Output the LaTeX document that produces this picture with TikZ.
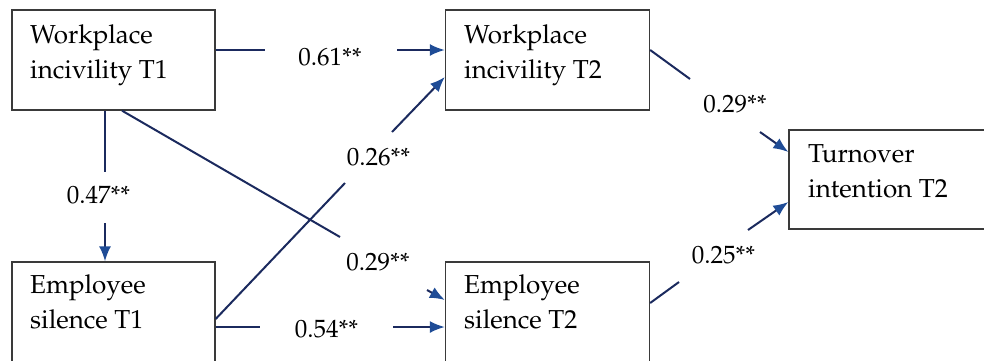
\documentclass[tikz,border=0pt]{standalone}
\usepackage[T1]{fontenc}
\usepackage{mathpazo}
\usetikzlibrary{arrows.meta,calc}
\definecolor{linec}{HTML}{1B2A5E}
\definecolor{arrowc}{HTML}{1F4C96}
\definecolor{boxc}{HTML}{3A3A3A}
\begin{document}
\begin{tikzpicture}[x=1pt,y=-1pt,
  box/.style={draw=boxc,line width=1.3pt,rectangle,inner sep=0pt},
  boxtext/.style={anchor=north west,inner sep=0pt,align=left,font=\fontsize{26}{35}\selectfont},
  conn/.style={draw=linec,line width=2pt},
  arr/.style={conn,-{Latex[length=15pt,width=12pt,color=arrowc]}},
  coef/.style={anchor=base,inner sep=0pt,font=\fontsize{25}{30}\selectfont}]
\useasboundingbox (0,0) rectangle (984,360);
\begin{scope}
\clip (0,0) rectangle (984,360);
% boxes
\node[box,minimum width=203pt,minimum height=100pt] (A) at (113.5,60) {};
\node[box,minimum width=203pt,minimum height=100pt] (B) at (113.5,312) {};
\node[box,minimum width=204pt,minimum height=100pt] (C) at (547.5,60) {};
\node[box,minimum width=204pt,minimum height=100pt] (D) at (547.5,312) {};
\node[box,minimum width=203pt,minimum height=99pt] (E) at (890.5,179.5) {};
\end{scope}
% box texts
\node[boxtext] (At) at (30,24) {Workplace\\incivility T1};
\node[boxtext] (Bt) at (30,274) {Employee\\silence T1};
\node[boxtext] (Ct) at (464,24) {Workplace\\incivility T2};
\node[boxtext] (Dt) at (464,274) {Employee\\silence T2};
\node[boxtext] (Et) at (808,144) {Turnover\\intention T2};
% gap coordinates
\coordinate (g1a) at (265,50);  \coordinate (g1b) at (397,50);
\coordinate (g2a) at (105,172); \coordinate (g2b) at (105,223);
\coordinate (g3a) at (340,237); \coordinate (g3b) at (427,290);
\coordinate (g4a) at (345,183); \coordinate (g4b) at (392,132);
\coordinate (g5a) at (260,327); \coordinate (g5b) at (393,327);
\coordinate (g6a) at (690,79);  \coordinate (g6b) at (760,132);
\coordinate (g7a) at (679,282); \coordinate (g7b) at (748,230);
% connectors
\draw[conn] ([yshift=10pt]A.east) -- (g1a);
\draw[arr] (g1b) -- ([yshift=10pt]C.west);
\draw[conn] ([xshift=-8.5pt]A.south) -- (g2a);
\draw[arr] (g2b) -- ([xshift=-8.5pt]B.north);
\draw[conn] ([xshift=8.5pt]A.south) -- (g3a);
\draw[arr] (g3b) -- ([yshift=12pt]D.west);
\draw[conn] ([yshift=-7pt]B.east) -- (g4a);
\draw[arr] (g4b) -- ([yshift=-17pt]C.west);
\draw[conn] ([yshift=-15pt]B.east) -- (g5a);
\draw[arr] (g5b) -- ([yshift=-15pt]D.west);
\draw[conn] ([yshift=10pt]C.east) -- (g6a);
\draw[arr] (g6b) -- ([yshift=27.5pt]E.west);
\draw[conn] ([yshift=9pt]D.east) -- (g7a);
\draw[arr] (g7b) -- ([yshift=-22.5pt]E.west);
% coefficients
\node[coef] (l1) at (330,65) {0.61**};
\node[coef] (l2) at (98.5,203) {0.47**};
\node[coef] (l3) at (378,270) {0.29**};
\node[coef] (l4) at (378.5,165) {0.26**};
\node[coef] (l5) at (326.5,337) {0.54**};
\node[coef] (l6) at (735,112) {0.29**};
\node[coef] (l7) at (723.5,263) {0.25**};
\end{tikzpicture}
\end{document}
